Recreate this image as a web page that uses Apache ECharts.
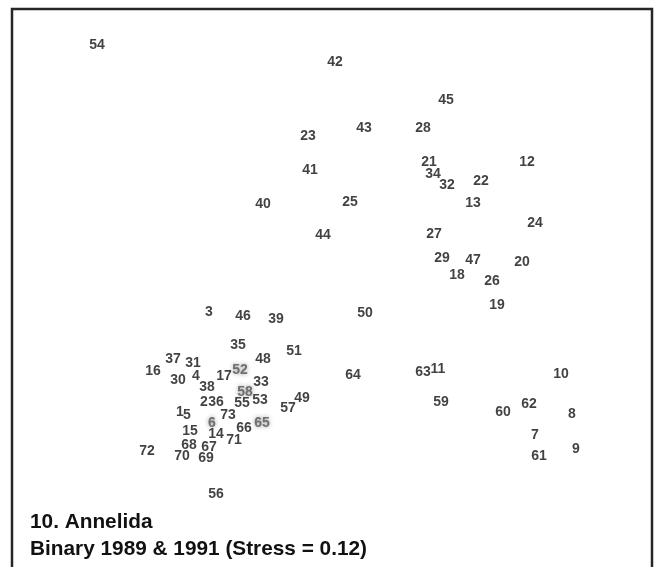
<!DOCTYPE html>
<html>
<head>
<meta charset="utf-8">
<script src="https://cdn.jsdelivr.net/npm/echarts@6/dist/echarts.min.js"></script>
<style>
  html, body { margin: 0; padding: 0; background: #fff; }
  #chart { width: 661px; height: 567px; }
</style>
</head>
<body>
<div id="chart"></div>
<script>
// MDS configuration of samples (two dimensions, plot units; dim2 grows downward)
const sampleIds = ['54','42','45','23','43','28','21','12','34','32','22','41','25','40','13','24','44','27','29','47','20','18','26','19',
  '3','46','39','50','35','48','51','37','31','16','17','30','4','33','64','63','11','10','38','55','53','2','36','49','57','59','60','62','8',
  '73','66','14','1','5','15','71','68','67','72','70','69','7','61','9','56'];
const dim1 = [97,335,446,308,364,423,429,527,433,447,481,310,350,263,473,535,323,434,442,473,522,457,492,497,
  209,243,276,365,238,263,294,173,193,153,224,178,196,261,353,423,438,561,207,242,260,204,216,302,288,441,503,529,572,
  228,244,216,180,187,190,234,189,209,147,182,206,535,539,576,216];
const dim2 = [45,62,100,136,128,128,162,162,174,185,181,170,202,204,203,223,235,234,258,260,262,275,281,305,
  312,316,319,313,345,359,351,359,363,371,376,380,376,382,375,372,369,374,387,403,400,402,402,398,408,402,412,404,414,
  415,428,434,412,415,431,440,445,447,451,456,458,435,456,449,494];

// overlapping samples printed in grey (smudged in the print)
const greyIds = ['52','58','65','6'];
const greyDim1 = [240,245,262,212];
const greyDim2 = [370,392,423,423];

const titleLines = ['10. Annelida', 'Binary 1989 & 1991 (Stress = 0.12)'];

const chart = echarts.init(document.getElementById('chart'));

const labelFont = {
  fontFamily: 'Liberation Sans, Arial, sans-serif',
  fontSize: 14,
  fontWeight: 'bold',
  color: '#111'
};

function toPoints(ids, xs, ys) {
  return ids.map((id, i) => ({ name: id, value: [xs[i], ys[i]] }));
}

chart.setOption({
  animation: false,
  backgroundColor: '#fff',
  grid: { left: 0, right: 0, top: 0, bottom: 0 },
  xAxis: { type: 'value', min: 0, max: 661, show: false },
  yAxis: { type: 'value', min: 0, max: 567, inverse: true, show: false },
  title: {
    text: titleLines.join('\n'),
    left: 30,
    top: 509,
    padding: 0,
    textStyle: {
      fontFamily: 'Liberation Sans, Arial, sans-serif',
      fontSize: 20.8,
      fontWeight: 'bold',
      color: '#111',
      lineHeight: 27
    }
  },
  graphic: [{
    type: 'rect',
    shape: { x: 12, y: 9, width: 640, height: 620 },
    style: { fill: 'none', stroke: '#262626', lineWidth: 2.5 },
    silent: true
  }],
  series: [
    {
      type: 'scatter',
      symbolSize: 1,
      itemStyle: { color: 'rgba(0,0,0,0)' },
      label: Object.assign({ show: true, position: 'inside', formatter: '{b}' }, labelFont),
      data: toPoints(sampleIds, dim1, dim2)
    },
    {
      type: 'scatter',
      symbolSize: 1,
      itemStyle: { color: 'rgba(0,0,0,0)' },
      label: Object.assign({ show: true, position: 'inside', formatter: '{b}' }, labelFont, {
        color: '#555',
        textShadowColor: 'rgba(90,90,90,0.8)',
        textShadowBlur: 4
      }),
      data: toPoints(greyIds, greyDim1, greyDim2)
    }
  ]
});
</script>
</body>
</html>
